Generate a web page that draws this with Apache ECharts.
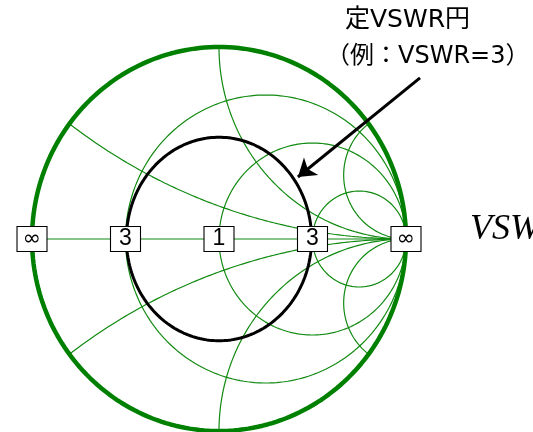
<!DOCTYPE html>
<html>
<head>
<meta charset="utf-8">
<script src="https://cdn.jsdelivr.net/npm/echarts@6/dist/echarts.min.js"></script>
<style>
  html, body { margin: 0; padding: 0; background: #fff; }
  #chart { width: 533px; height: 432px; }
</style>
</head>
<body>
<div id="chart"></div>
<script>
// 定抵抗円 r, 定リアクタンス円 x
const resistances = [1 / 3, 1, 3];
const reactances = [1 / 3, 1, 3, -1 / 3, -1, -3];
// 実軸上のラベル (Γ の位置と表示)
const labelGamma = [-1, -0.5, 0, 0.5, 1];
const labelText = ['∞', '3', '1', '3', '∞'];
// 例: VSWR=3
const vswr = 3;
// 注釈の矢印 (Γ平面)
const arrowTail = [1.075, 0.839];
const arrowTip = [0.422, 0.323];

const green = '#118a11';
const N = 240;

//z = r + jx -> Γ
function gamma(r, x) {
    const dr = (r + 1) * (r + 1) + x * x;
    return [((r * r + x * x) - 1) / dr, (2 * x) / dr];
}

function circlePts(cx, cy, rx, ry) {
    let pts = [];
    for (let i = 0; i <= N; i++) {
        const t = (i / N) * Math.PI * 2;
        pts.push([cx + rx * Math.cos(t), cy + ry * Math.sin(t)]);
    }
    return pts;
}

function reactancePts(x) {
    let pts = [];
    for (let i = 0; i < N; i++) {
        const r = Math.tan((i / N) * Math.PI / 2);
        pts.push(gamma(r, x));
    }
    pts.push([1, 0]);
    return pts;
}

function lineSeries(data, color, width, z) {
    return {
        type: 'line',
        data: data,
        showSymbol: false,
        symbol: 'none',
        clip: false,
        silent: true,
        z: z || 2,
        lineStyle: { color: color, width: width }
    };
}

let series = [];
// 外周 (r = 0)
series.push(lineSeries(circlePts(0, 0, 1, 1), '#008000', 4.5, 3));
// 実軸
series.push(lineSeries([[-1, 0], [1, 0]], green, 1.2));
resistances.forEach(r => {
    series.push(lineSeries(circlePts(r / (1 + r), 0, 1 / (1 + r), 1 / (1 + r)), green, 1.2));
});
reactances.forEach(x => {
    series.push(lineSeries(reactancePts(x), green, 1.2));
});
// 定VSWR円
const g = (vswr - 1) / (vswr + 1);
series.push(lineSeries(circlePts(0, 0, g * 0.99, g * 1.06), '#000', 3, 4));
// 矢印
series.push({
    type: 'lines',
    coordinateSystem: 'cartesian2d',
    clip: false,
    silent: true,
    z: 5,
    symbol: ['none', 'arrow'],
    symbolSize: 17,
    lineStyle: { color: '#000', width: 3, opacity: 1 },
    data: [{ coords: [arrowTail, arrowTip] }]
});
// ラベル
series.push({
    type: 'scatter',
    data: labelGamma.map((v, i) => ({ value: [v, 0], name: labelText[i] })),
    symbol: 'rect',
    symbolSize: [30, 25],
    clip: false,
    silent: true,
    z: 6,
    itemStyle: { color: '#fff', borderColor: '#000', borderWidth: 1, opacity: 1 },
    label: {
        show: true,
        position: 'inside',
        formatter: p => p.name === '∞' ? '{inf|∞}' : p.name,
        color: '#000',
        fontSize: 23,
        fontFamily: 'Liberation Sans',
        rich: {
            inf: { fontSize: 22, fontFamily: 'DejaVu Sans', color: '#000' }
        }
    }
});

const chart = echarts.init(document.getElementById('chart'));
chart.setOption({
    animation: false,
    grid: { left: 32, top: 47, width: 374, height: 384 },
    xAxis: { type: 'value', min: -1, max: 1, show: false },
    yAxis: { type: 'value', min: -1, max: 1, show: false },
    graphic: [
        {
            type: 'text', left: 345, top: 8,
            style: { text: '定VSWR円', fontSize: 25, fill: '#000', fontFamily: '"DejaVu Sans", "Noto Sans CJK JP"' }
        },
        {
            type: 'text', left: 326, top: 45,
            style: { text: '（例：VSWR=3）', fontSize: 24, fill: '#000', fontFamily: '"DejaVu Sans", "Noto Sans CJK JP"' }
        },
        {
            type: 'text', left: 470, top: 212,
            style: { text: 'VSWR', fontSize: 36, fontStyle: 'italic', fill: '#000', fontFamily: '"Liberation Serif"' }
        }
    ],
    series: series
});
</script>
</body>
</html>
